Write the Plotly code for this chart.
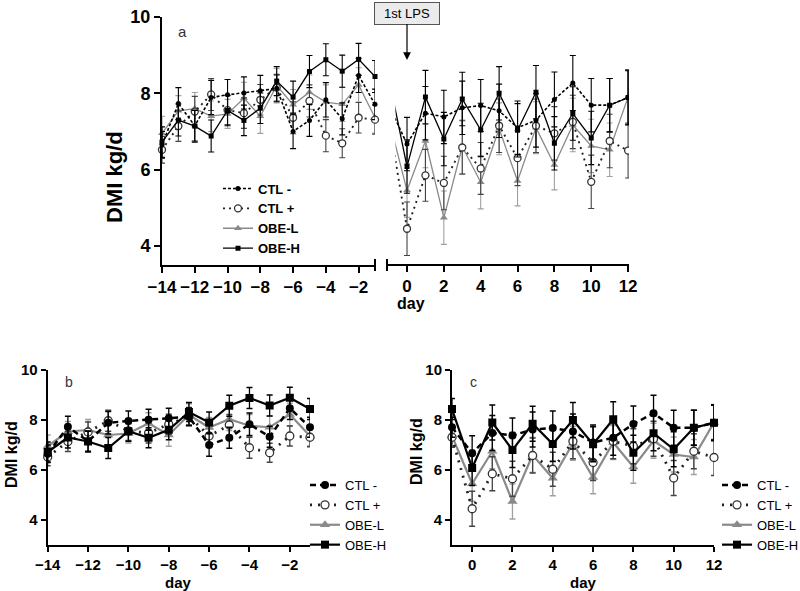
import plotly.graph_objects as go

# ---------------- data ----------------
days_pre = [-14, -13, -12, -11, -10, -9, -8, -7, -6, -5, -4, -3, -2, -1]
days_post = [-1, 0, 1, 2, 3, 4, 5, 6, 7, 8, 9, 10, 11, 12]

ctl_minus_pre = [6.65, 7.73, 7.15, 7.89, 7.96, 8.01, 8.07, 8.13, 7.00, 7.29, 7.83, 7.33, 8.47, 7.71]
ctl_plus_pre = [6.52, 7.14, 7.52, 7.97, 7.56, 7.48, 7.83, 8.15, 7.36, 7.80, 6.89, 6.69, 7.36, 7.31]
obe_l_pre = [6.95, 7.54, 7.60, 7.40, 7.46, 7.87, 7.40, 8.20, 7.70, 8.03, 7.77, 7.71, 8.22, 7.36]
obe_h_pre = [6.72, 7.30, 7.14, 6.88, 7.55, 7.29, 7.61, 8.32, 7.90, 8.57, 8.88, 8.58, 8.89, 8.44]

ctl_minus_pre_err = [0.35, 0.42, 0.40, 0.45, 0.40, 0.42, 0.40, 0.35, 0.45, 0.42, 0.45, 0.42, 0.45, 0.40]
ctl_plus_pre_err = [0.35, 0.40, 0.40, 0.42, 0.38, 0.40, 0.40, 0.35, 0.42, 0.42, 0.42, 0.38, 0.40, 0.38]
obe_l_pre_err = [0.45, 0.40, 0.42, 0.40, 0.38, 0.42, 0.45, 0.45, 0.40, 0.45, 0.45, 0.45, 0.45, 0.40]
obe_h_pre_err = [0.40, 0.42, 0.42, 0.42, 0.40, 0.40, 0.40, 0.38, 0.42, 0.42, 0.42, 0.42, 0.42, 0.42]

ctl_minus_post = [7.71, 6.67, 7.48, 7.38, 7.62, 7.68, 7.54, 7.10, 7.29, 7.84, 8.27, 7.69, 7.69, 7.89]
ctl_plus_post = [7.31, 4.45, 5.85, 5.65, 6.58, 6.03, 7.15, 6.30, 7.15, 6.95, 7.25, 5.68, 6.75, 6.50]
obe_l_post = [7.36, 5.45, 6.75, 4.74, 6.60, 5.67, 7.07, 5.70, 7.10, 6.12, 7.17, 6.62, 6.52, 7.90]
obe_h_post = [8.44, 6.08, 7.90, 6.80, 7.85, 7.04, 8.00, 7.03, 8.03, 6.69, 7.47, 6.83, 7.69, 7.89]

ctl_minus_post_err = [0.40, 0.70, 0.70, 0.70, 0.70, 0.68, 0.70, 0.70, 0.70, 0.72, 0.72, 0.70, 0.70, 0.72]
ctl_plus_post_err = [0.40, 0.70, 0.68, 0.70, 0.70, 0.68, 0.70, 0.72, 0.70, 0.70, 0.70, 0.70, 0.70, 0.72]
obe_l_post_err = [0.45, 0.70, 0.70, 0.70, 0.70, 0.70, 0.68, 0.65, 0.68, 0.65, 0.70, 0.70, 0.70, 0.72]
obe_h_post_err = [0.42, 0.70, 0.70, 0.70, 0.70, 0.70, 0.70, 0.70, 0.70, 0.70, 0.70, 0.70, 0.70, 0.70]

series_names = ["CTL -", "CTL +", "OBE-L", "OBE-H"]
pre_vals = [ctl_minus_pre, ctl_plus_pre, obe_l_pre, obe_h_pre]
pre_errs = [ctl_minus_pre_err, ctl_plus_pre_err, obe_l_pre_err, obe_h_pre_err]
post_vals = [ctl_minus_post, ctl_plus_post, obe_l_post, obe_h_post]
post_errs = [ctl_minus_post_err, ctl_plus_post_err, obe_l_post_err, obe_h_post_err]

y_ticks = [4, 6, 8, 10]
x_ticks_pre = [-14, -12, -10, -8, -6, -4, -2]
x_ticks_post = [0, 2, 4, 6, 8, 10, 12]

# ---------------- layout helpers ----------------
W, H = 800, 591
def px(x):
    return x / W
def py(y):
    return 1 - y / H

FONT = "Liberation Sans, Arial, sans-serif"
GREY = "#8a8a8a"

def style(name, big):
    lw = 2.2 if big else 1.3
    if name == "CTL -":
        return dict(line=dict(color="black", width=lw + 0.3, dash="6px,4px" if big else "3px,2px"),
                    marker=dict(symbol="circle", size=8 if big else 5, color="black"),
                    err="black")
    if name == "CTL +":
        return dict(line=dict(color="#222", width=lw + 0.6, dash="2px,6px" if big else "2px,4px"),
                    marker=dict(symbol="circle", size=8 if big else 7, color="white",
                                line=dict(color="#333", width=1.3)),
                    err="#444")
    if name == "OBE-L":
        return dict(line=dict(color=GREY, width=lw),
                    marker=dict(symbol="triangle-up", size=9 if big else 7, color=GREY),
                    err="#a0a0a0")
    return dict(line=dict(color="black", width=lw),
                marker=dict(symbol="square", size=8 if big else 5, color="black"),
                err="black")

draw_order = [2, 1, 0, 3]  # OBE-L, CTL+, CTL-, OBE-H (OBE-H on top)

fig = go.Figure()

def add(xs, ys, es, name, xa, ya, big, legend, showlegend, rank, clip):
    s = style(name, big)
    fig.add_trace(go.Scatter(
        x=xs, y=ys, name=name, mode="lines+markers",
        line=s["line"], marker=s["marker"],
        error_y=dict(type="data", array=es, visible=True, color=s["err"],
                     thickness=1.1 if not big else 1.3, width=3),
        xaxis=xa, yaxis=ya, legend=legend, showlegend=showlegend,
        legendrank=rank, cliponaxis=clip))

for i in draw_order:
    nm = series_names[i]
    add(days_pre, pre_vals[i], pre_errs[i], nm, "x", "y", False, "legend", True, i + 1, False)
    add(days_post, post_vals[i], post_errs[i], nm, "x2", "y2", False, "legend", False, i + 1, True)
    add(days_pre, pre_vals[i], pre_errs[i], nm, "x3", "y3", True, "legend2", True, i + 1, False)
    add(days_post, post_vals[i], post_errs[i], nm, "x4", "y4", True, "legend3", True, i + 1, False)

def axis(size, **kw):
    d = dict(showgrid=False, zeroline=False, showline=True, linecolor="black", linewidth=2,
             ticks="outside", ticklen=6, tickwidth=2, tickcolor="black",
             tickfont=dict(family=FONT, size=size, color="black", weight="bold"))
    d.update(kw)
    return d

ya_dom = [py(265), py(17)]
ybc_dom = [py(545), py(370)]

fig.update_layout(
    width=W, height=H, margin=dict(l=0, r=0, t=0, b=0, autoexpand=False),
    paper_bgcolor="white", plot_bgcolor="rgba(0,0,0,0)",
    font=dict(family=FONT, color="black"),
    xaxis=axis(17, domain=[px(162), px(375)], range=[-14, -1], tickvals=x_ticks_pre, anchor="y"),
    yaxis=axis(18, domain=ya_dom, range=[3.5, 10], tickvals=y_ticks, anchor="x"),
    xaxis2=axis(17, domain=[px(395.4), px(629)], range=[-0.63, 12.05], tickvals=x_ticks_post,
                anchor="y2", showline=False),
    yaxis2=dict(domain=ya_dom, range=[3.5, 10], visible=False, anchor="x2"),
    xaxis3=axis(15, domain=[px(47.7), px(310)], range=[-14, -1], tickvals=x_ticks_pre, anchor="y3", ticklen=5),
    yaxis3=axis(15, domain=ybc_dom, range=[3, 10], tickvals=y_ticks, anchor="x3", ticklen=5),
    xaxis4=axis(15, domain=[px(452), px(714)], range=[-1, 12], tickvals=x_ticks_post, anchor="y4", ticklen=5),
    yaxis4=axis(15, domain=ybc_dom, range=[3, 10], tickvals=y_ticks, anchor="x4", ticklen=5),
    legend=dict(x=px(218), y=py(218.5), xanchor="left", yanchor="middle",
                bgcolor="rgba(0,0,0,0)", font=dict(family=FONT, size=13, weight="bold"),
                itemwidth=30, tracegroupgap=0),
    legend2=dict(x=px(305), y=py(515), xanchor="left", yanchor="middle",
                 bgcolor="rgba(0,0,0,0)", font=dict(family=FONT, size=13),
                 itemwidth=30, tracegroupgap=0),
    legend3=dict(x=px(717), y=py(515), xanchor="left", yanchor="middle",
                 bgcolor="rgba(0,0,0,0)", font=dict(family=FONT, size=13),
                 itemwidth=30, tracegroupgap=0),
    showlegend=True,
)

fig.add_shape(type="line", xref="paper", yref="paper", x0=px(387), x1=px(629), y0=py(265), y1=py(265),
              line=dict(color="black", width=2))
fig.add_shape(type="line", xref="paper", yref="paper", x0=px(387), x1=px(387), y0=py(259), y1=py(271),
              line=dict(color="black", width=2))
fig.add_shape(type="line", xref="paper", yref="paper", x0=px(375), x1=px(375), y0=py(259), y1=py(271),
              line=dict(color="black", width=2))

fig.add_annotation(x=0, y=8.87, xref="x2", yref="y2", text="1st LPS", showarrow=True,
                   ax=0, ay=-47, arrowhead=2, arrowsize=1.3, arrowwidth=1.2, arrowcolor="black",
                   bgcolor="#ebebeb", bordercolor="#555", borderwidth=1, borderpad=3,
                   width=58, font=dict(family=FONT, size=13, color="black"))

def txt(x, y, t, size, bold=True, angle=0, color="black"):
    fig.add_annotation(x=px(x), y=py(y), xref="paper", yref="paper", text=t, showarrow=False,
                       textangle=angle, xanchor="center", yanchor="middle",
                       font=dict(family=FONT, size=size, color=color, weight="bold" if bold else "normal"))

txt(114, 177, "DMI kg/d", 22, angle=-90)
txt(411, 303, "day", 16)
txt(11, 455, "DMI kg/d", 16, angle=-90)
txt(178, 582, "day", 15)
txt(416, 452, "DMI kg/d", 16, angle=-90)
txt(583, 582, "day", 15)

txt(182, 31, "a", 15, bold=False, color="#333")
txt(69, 382, "b", 14, bold=False, color="#333")
txt(473, 382, "c", 14, bold=False, color="#333")

fig.write_html("out.html", config={"displayModeBar": False},
               post_script="document.body.style.margin='0px';document.body.style.overflow='hidden';")
